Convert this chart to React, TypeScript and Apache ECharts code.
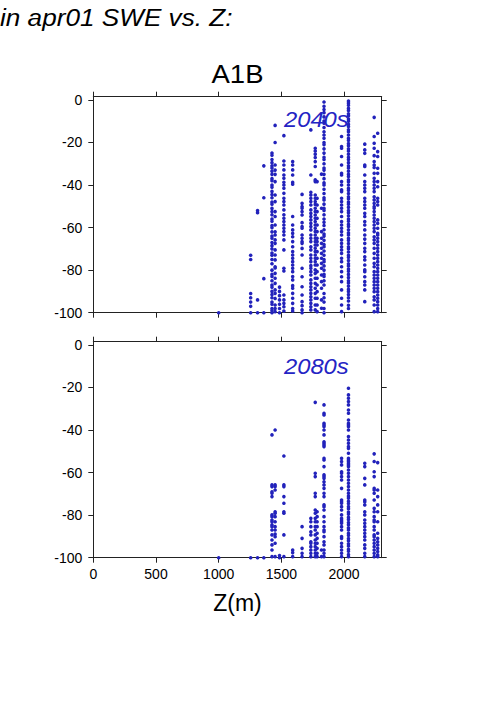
import React, { useEffect, useRef } from "react";
import * as echarts from "echarts";

// Station elevations (m) for each column of points
const elevations = [1000, 1255, 1310, 1360, 1425, 1450, 1485, 1520, 1590, 1665, 1735, 1770, 1785, 1820, 1840, 1980, 2035, 2165, 2240, 2268];

// % change in apr01 SWE, 2040s, one list per elevation above
const swe2040: number[][] = [
  [-100],
  [-73, -75, -91, -93, -95, -97, -100],
  [-52, -53, -94, -100],
  [-31, -46, -84, -100],
  [-25, -26, -28, -29.5, -31, -32, -33.5, -35, -37, -38, -40, -41, -43, -44.5, -46, -48, -49, -51, -52.5, -54, -56, -57, -59, -60, -62, -64, -65, -67, -68.5, -70, -72, -73, -75, -77, -80, -82, -83, -85, -87, -88, -90, -91.5, -93, -95, -96, -98, -99, -100],
  [-12, -20, -30.6, -33, -35, -38.4, -44.7, -47.8, -52.5, -54.8, -58.8, -62, -63.5, -65.8, -67.4, -70.5, -72.9, -75.2, -78.4, -79, -81.5, -83.8, -86.2, -89.3, -90.9, -93.3, -96.4, -98, -99.5],
  [-88, -90, -92, -94, -96, -98, -100],
  [-16.8, -28.7, -30.6, -32.9, -35.3, -36.8, -38.7, -40, -41.5, -43.9, -46.2, -47.8, -49.4, -51.7, -54, -55.6, -57.2, -58.8, -60.3, -61.9, -63.5, -65.8, -70.5, -79.1, -80.4, -91.7, -94, -95.6, -97.2, -99.2],
  [-29, -30.6, -32.9, -35.3, -38.7, -39.6, -54.8, -58.8, -61.1, -62.7, -64.3, -66.6, -69, -71.3, -72.9, -74.4, -76, -77.6, -79.1, -80.7, -83, -84.6, -87.3, -88.5, -90.9, -93.2, -95.6, -98, -99.2],
  [-44.4, -48.6, -50.1, -50.9, -52.5, -54.1, -57.7, -59.5, -60.3, -63.5, -65, -66.6, -67.4, -69.8, -72.9, -79.1, -83.1, -87.8, -91.7, -94.8, -96.7, -98.7, -100],
  [-14.1, -35.3, -43.4, -44.7, -46.2, -47.8, -49.4, -51.7, -53.3, -54.8, -56.4, -58, -59.5, -61.1, -63.5, -65, -66.6, -69, -70.5, -72.9, -74.4, -76, -77.9, -79.1, -80.7, -82.3, -84.6, -86.2, -87.8, -89.3, -90.9, -92.5, -94, -95.6, -97.2, -98.7],
  [-22.7, -24, -25.5, -27.1, -29, -31.3, -37.6, -38.4, -44.7, -46.2, -47.8, -49.1, -50.9, -52.5, -54.1, -55.6, -57.2, -58.8, -60.3, -61.9, -63.5, -65, -66.6, -68.2, -69.7, -71.3, -72.9, -74.4, -76, -77.6, -79.9, -81.5, -83.8, -86.2, -88.5, -90.9, -93.2, -96.4, -98.7],
  [-38.4, -46.2, -49.4, -52.5, -55.6, -58.8, -61.9, -65, -66.6, -68.2, -71.3, -74.4, -77.6, -80.7, -83.8, -87, -90.1, -93.2, -96.4, -99.5],
  [-34.9, -50.9, -61.9, -65, -67.4, -69.7, -72.1, -74.4, -76.8, -79.1, -82.3, -85.4, -88.5, -94, -97.9],
  [-1, -3, -4.5, -6, -8, -10, -11, -13, -15, -16.5, -18, -20, -21, -23, -25, -27, -28, -30, -32, -33, -35, -37, -39, -40, -42, -44, -46, -47, -49, -51, -52, -54, -56, -57.5, -59, -61, -63, -64, -66, -68, -69, -71, -73, -75, -76, -78, -80, -82, -83, -85, -87, -91, -93, -95, -98, -100],
  [-17.2, -21.9, -22.7, -26.6, -30.6, -34.5, -35.3, -38.4, -40, -42.3, -43.1, -46.2, -47.8, -49.4, -50.9, -52.5, -54.8, -57.2, -58.8, -60.3, -61.9, -63.5, -65.8, -67.4, -69, -70.5, -72.1, -74.4, -76, -78.4, -80.7, -83.1, -85.4, -89.3, -93.2, -96.4, -99.5],
  [-0.5, -1.5, -2.5, -4, -5, -6.5, -7.5, -9, -10, -11.5, -12.5, -14, -15, -16.5, -18, -19, -20.5, -21.5, -23, -24, -25.5, -27, -28, -29.5, -31, -32, -33.5, -35, -36, -37.5, -38.5, -40, -41.5, -42.5, -44, -45.5, -46.5, -48, -49, -50.5, -52, -53, -54.5, -56, -57, -58.5, -59.5, -61, -62.5, -63.5, -65, -66, -67.5, -69, -70, -71.5, -73, -74, -75.5, -77, -78, -79.5, -80.5, -82, -83.5, -85, -86, -87.5, -89, -90, -91.5, -93, -94.5, -96.5, -98],
  [-20.8, -23.5, -25.1, -30.6, -31.3, -35.3, -38.4, -40, -41.5, -43.1, -46.2, -47.8, -49.4, -50.9, -53.3, -54.8, -57.2, -58.8, -61.1, -63.5, -65.4, -67.4, -69.7, -71.3, -73.7, -75.2, -77.6, -79.9, -80.7, -83.1, -85.4, -87, -89.3, -94.8],
  [-8.2, -17.2, -20.4, -22.7, -26.2, -29, -30.6, -31.8, -34.5, -36.8, -38.4, -40, -41.5, -43.1, -45.5, -47, -48.6, -50.1, -50.9, -52.5, -54.1, -55.6, -57.2, -58.8, -60.3, -61.9, -64.3, -65.8, -67.4, -69.7, -72.1, -74.4, -76.8, -78.4, -80.7, -82.3, -83.8, -85.4, -87, -88.5, -90.1, -92.5, -94, -96.4, -99.5],
  [-15.7, -24.3, -26.6, -32.1, -34.5, -38.4, -40.8, -46.2, -47.8, -49.4, -56.4, -58, -60.3, -62.7, -63.5, -65, -66.6, -68.2, -69.7, -71.3, -72.9, -74.4, -76, -77.6, -79.1, -80.7, -82.3, -83.8, -85.4, -87, -88.5, -90.1, -91.7, -93.2, -94.8, -96.4, -98, -99.5],
];

// % change in apr01 SWE, 2080s, one list per elevation above
const swe2080: number[][] = [
  [-100],
  [-100],
  [-100],
  [-100],
  [-42.3, -65.8, -66.6, -69, -69.7, -71.3, -79.9, -80.7, -82.3, -83.1, -84.6, -85.4, -87, -89.3, -91.7, -94, -96.4, -99.5],
  [-40, -65.8, -66.6, -68.2, -78.4, -79.1, -80.7, -83.1, -85.4, -87, -88.9, -90.1, -93.2, -99.5],
  [-99, -100],
  [-52.2, -65.8, -66.6, -71.3, -74.4, -78.4, -79.1, -89.3, -99.5],
  [-96.4, -97.6, -99.5],
  [-85.4, -90.9, -95.6, -97.9, -99.5],
  [-81.5, -83.1, -85.4, -87.8, -89.3, -92.5, -93.2, -94.8, -96.4, -97.9, -99.5],
  [-27, -60.3, -61.9, -69.7, -71.3, -77.6, -79.1, -81.5, -83.1, -85.4, -87, -89.3, -91.7, -93.2, -94.8, -96.4, -97.9, -99.5],
  [-78.4, -80.7, -83.1, -85.4, -88.5, -90.9, -93.2, -95.6, -97.9, -99.5],
  [-96.4, -99.5],
  [-28.2, -32.1, -32.9, -36.8, -37.6, -38.4, -40, -42.3, -45.5, -46.2, -47, -47.8, -53.3, -54.1, -57.2, -61.1, -61.9, -62.7, -64.3, -65.8, -67.4, -69.7, -71.3, -75.2, -76, -77.6, -80.7, -83.1, -85.4, -87, -87.8, -90.1, -92.5, -94, -96.4, -97.9, -99.5],
  [-53.3, -54.8, -56.4, -59.6, -60.3, -61.9, -63.5, -67.4, -72.9, -73.7, -74.4, -76, -77.6, -79.9, -81.5, -82.3, -83.1, -83.8, -85.4, -87, -90.1, -90.9, -93.2, -94.8, -96.4, -97.9, -99.5],
  [-20.4, -23.5, -25.1, -26.6, -28.2, -30.6, -32.1, -35.3, -36.8, -37.6, -38.4, -40, -43.1, -44.7, -46.2, -47.8, -48.6, -50.9, -53.3, -54.1, -54.8, -55.6, -56.4, -57.2, -58.8, -60.3, -61.9, -63.5, -65, -66.6, -68.2, -69.7, -71, -72, -73.5, -74.5, -76, -77, -78.5, -79.5, -81, -82, -83.5, -84.5, -86, -87, -88.5, -89.5, -91, -92, -93.5, -94.5, -96, -97, -98.5, -99.5],
  [-55.6, -57.2, -62.7, -65.8, -72.9, -73.7, -75.2, -78.4, -79.9, -82.3, -83.8, -85.4, -87, -88.5, -90.1, -91.7, -94, -95.6, -97.9, -99.5],
  [-51.2, -54.8, -59.6, -61.9, -67.4, -68.2, -69.7, -72.9, -76.8, -78.4, -80.7, -82.3, -83.1, -85.4, -87, -89.3, -90.1, -91.7, -93.2, -94.8, -96.4, -97.9, -99.5],
  [-55.3, -68.2, -71.3, -75.2, -78.4, -83.1, -88.5, -90.9, -92.5, -94, -95.6, -97.1, -98.7, -99.5],
];

const xTicks = [0, 500, 1000, 1500, 2000];
const yTicks = [-100, -80, -60, -40, -20, 0];
const panelLabels = ["2040s", "2080s"];

const DOT = "#2222bb";
const AXIS = "#222222";
const FONT = "'Liberation Sans', Arial, Helvetica, sans-serif";

function toPoints(cols: number[][]): number[][] {
  const pts: number[][] = [];
  cols.forEach((vals, i) => vals.forEach((v) => pts.push([elevations[i], v])));
  return pts;
}

export default function App() {
  const ref = useRef<HTMLDivElement>(null);
  useEffect(() => {
    if (!ref.current) return;
    const chart = echarts.init(ref.current, null, { renderer: "svg" });
    const GL = 93.3, GW = 288.4, GH = 216;
    const tops = [96.7, 341.7];
    const plain = (v: number) => String(v);
    const xAx = (grid: number, pos: "top" | "bottom", labels: boolean): any => ({
      type: "value", gridIndex: grid, position: pos, min: 0, max: 2300,
      axisLine: { show: true, onZero: false, lineStyle: { color: AXIS, width: 1 } },
      axisTick: { show: true, inside: false, length: 5, customValues: xTicks, lineStyle: { color: AXIS } },
      axisLabel: { show: labels, customValues: xTicks, formatter: plain, margin: 9, fontSize: 14, color: "#000", fontFamily: FONT },
      splitLine: { show: false },
      ...(labels ? { name: "Z(m)", nameLocation: "middle", nameGap: 34, nameTextStyle: { fontSize: 23, color: "#000", fontFamily: FONT } } : {}),
    });
    const yAx = (grid: number, pos: "left" | "right", labels: boolean): any => ({
      type: "value", gridIndex: grid, position: pos, min: -100, max: 1.5,
      axisLine: { show: true, onZero: false, lineStyle: { color: AXIS, width: 1 } },
      axisTick: { show: true, inside: false, length: 5, customValues: yTicks, lineStyle: { color: AXIS } },
      axisLabel: { show: labels, customValues: yTicks, formatter: plain, margin: 11, fontSize: 14, color: "#000", fontFamily: FONT },
      splitLine: { show: false },
    });
    chart.setOption({
      animation: false,
      backgroundColor: "#fff",
      grid: tops.map((t) => ({ left: GL, top: t, width: GW, height: GH })),
      xAxis: [xAx(0, "bottom", false), xAx(0, "top", false), xAx(1, "bottom", true), xAx(1, "top", false)],
      yAxis: [yAx(0, "left", true), yAx(0, "right", false), yAx(1, "left", true), yAx(1, "right", false)],
      series: [swe2040, swe2080].map((cols, i) => ({
        type: "scatter", xAxisIndex: i * 2, yAxisIndex: i * 2,
        symbolSize: 3.6, itemStyle: { color: DOT, opacity: 1 },
        data: toPoints(cols), silent: true,
      })),
      graphic: [
        { type: "text", x: 0, y: 17, scaleX: 1.09, style: { text: "in apr01 SWE vs. Z:", font: `italic 24px ${FONT}`, fill: "#000", textAlign: "left", textVerticalAlign: "middle" } },
        { type: "text", x: 237.5, y: 74, scaleX: 1.1, style: { text: "A1B", font: `25px ${FONT}`, fill: "#000", textAlign: "center", textVerticalAlign: "middle" } },
        ...panelLabels.map((t, i) => ({
          type: "text", x: 284, y: [119, 366.5][i], scaleX: 1.08,
          style: { text: t, font: `italic 22px ${FONT}`, fill: "#2424c4", textAlign: "left", textVerticalAlign: "middle" },
        })),
      ],
    });
    return () => chart.dispose();
  }, []);
  return <div ref={ref} style={{ position: "absolute", left: 0, top: 0, width: 501, height: 709 }} />;
}
